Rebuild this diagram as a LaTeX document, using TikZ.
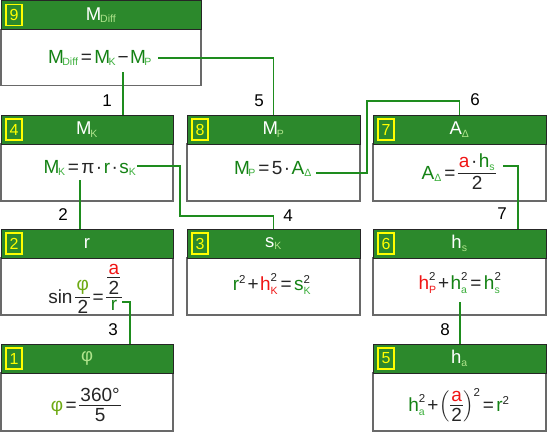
\documentclass[tikz,border=0pt]{standalone}
\usepackage{fontspec}
\setmainfont{Liberation Sans}
\usepackage{amsmath}
\definecolor{hdrfill}{RGB}{44,137,44}
\definecolor{vg}{RGB}{20,130,20}
\definecolor{sg}{RGB}{60,175,60}
\definecolor{lg}{RGB}{110,170,20}
\definecolor{hs}{RGB}{175,228,140}
\definecolor{ln}{RGB}{30,140,30}
\definecolor{bord}{RGB}{105,105,105}
\definecolor{badgec}{RGB}{255,255,0}
\definecolor{rd}{RGB}{240,20,20}
\thickmuskip=2.5mu plus 1mu
\medmuskip=1.5mu plus 1mu
\newcommand\T[2]{\text{\color{#1}#2}}
\newcommand\Sb[2]{\text{\fontsize{10.5}{10.5}\selectfont\color{#1}#2}}
\newcommand\Sp[1]{\text{\fontsize{11.5}{11.5}\selectfont\color{black!85}#1}}
\newcommand\EQ{\mathrel{\text{=}}}
\newcommand\PL{\mathbin{\text{+}}}
\newcommand\MI{\mathbin{\text{−}}}
\newcommand\CD{\mathbin{\text{·}}}
% fraction with rule on the axis
\newcommand\Fr[2]{\mathord{\FrBox{#1}{#2}}}
\newcommand\FrBox[2]{%
  \setbox0=\hbox{#1}\setbox2=\hbox{#2}%
  \dimen0=\wd0 \ifdim\wd2>\dimen0 \dimen0=\wd2\fi
  \advance\dimen0 by 2.5pt
  \raisebox{5.6pt}{\vtop{\offinterlineskip\vbox{\offinterlineskip\hbox to\dimen0{\hss\box0\hss}\kern2.5pt\hrule height 0.8pt}\kern3pt\hbox to\dimen0{\hss\box2\hss}}}}
\newcommand\mycard[7]{%
  \node[bodybox, minimum width=#4pt, minimum height=#5pt] (b#1) at (#2,#3+29) {};
  \node[hdrbox, minimum width=#4pt] (h#1) at (#2,#3) {};
  \node[ttl] (t#1) at (h#1.center) {#7};
  \node[badge] (n#1) at ([xshift=13pt]h#1.west) {#6};
}
\tikzset{
  hdrbox/.style={draw=black!85, fill=hdrfill, line width=0.9pt, inner sep=0, outer sep=0, anchor=north west, minimum height=29pt},
  bodybox/.style={draw=bord, fill=white, line width=1.2pt, inner sep=0, outer sep=0, anchor=north west},
  badge/.style={draw=badgec, line width=1.3pt, text=badgec, minimum width=16pt, minimum height=21pt, inner sep=0, font=\fontsize{16}{16}\selectfont},
  ttl/.style={text=white, font=\fontsize{18.5}{18.5}\selectfont, inner sep=0},
  fml/.style={font=\fontsize{19}{22}\selectfont, inner sep=0, text=black!85, anchor=base},
  conn/.style={draw=ln, line width=1.6pt},
  lbl/.style={font=\fontsize{17}{17}\selectfont, inner sep=0, text=black},
}
\begin{document}
\begin{tikzpicture}[x=1pt,y=-1pt]
\useasboundingbox (0,0) rectangle (547,432);
% cards
\mycard{9}{1}{0.5}{200}{56}{9}{$\text{M}_{\Sb{hs}{\kern-1pt Diff}}$}
\mycard{4}{1}{115}{172}{57}{4}{$\text{M}_{\Sb{hs}{\kern-1pt K}}$}
\mycard{8}{187}{115}{173}{57}{8}{$\text{M}_{\Sb{hs}{\kern-1pt P}}$}
\mycard{7}{373}{115}{173}{57}{7}{$\text{A}_{\Sb{hs}{Δ}}$}
\mycard{2}{1}{229}{172}{57}{2}{r}
\mycard{3}{187}{229}{173}{57}{3}{$\text{s}_{\Sb{hs}{K}}$}
\mycard{6}{373}{229}{173}{57}{6}{$\text{h}_{\Sb{hs}{s}}$}
\mycard{1}{1}{344}{172}{58}{1}{\textcolor{hs}{φ}}
\mycard{5}{373}{344}{173}{58}{5}{$\text{h}_{\Sb{hs}{a}}$}
% formulas
\node[fml] (f9) at (100,63) {$\T{vg}{M}_{\Sb{sg}{\kern-1.5pt Diff}}\EQ\T{vg}{M}_{\Sb{sg}{\kern-1.5pt K}}\MI\T{vg}{M}_{\Sb{sg}{\kern-1.5pt P}}$};
\node[fml] (f4) at (90,173) {$\T{vg}{M}_{\Sb{sg}{\kern-1.5pt K}}\EQ\text{π}\CD\T{vg}{r}\CD\T{vg}{s}_{\Sb{sg}{K}}$};
\node[fml] (f8) at (273,174) {$\T{vg}{M}_{\Sb{sg}{\kern-1.5pt P}}\EQ\text{5}\CD\T{vg}{A}_{\Sb{sg}{Δ}}$};
\node[fml] (f7) at (459,179) {$\T{vg}{A}_{\Sb{sg}{Δ}}\EQ\Fr{$\T{rd}{a}\CD\T{vg}{h}_{\Sb{sg}{s}}$}{2}$};
\node[fml] (f2) at (85,303) {$\text{sin}\,\Fr{\textcolor{lg}{φ}}{2}\EQ\Fr{$\Fr{\textcolor{rd}{a}}{2}$}{\textcolor{vg}{r}}$};
\node[fml] (f3) at (272,290) {$\T{vg}{r}^{\Sp{2}}\PL\T{rd}{h}^{\Sp{2}}_{\Sb{rd}{K}}\EQ\T{vg}{s}^{\Sp{2}}_{\Sb{sg}{K}}$};
\node[fml] (f6) at (460,289) {$\T{rd}{h}^{\Sp{2}}_{\Sb{rd}{P}}\PL\T{vg}{h}^{\Sp{2}}_{\Sb{sg}{a}}\EQ\T{vg}{h}^{\Sp{2}}_{\Sb{sg}{s}}$};
\node[fml] (f1) at (86,411) {$\T{lg}{φ}\EQ\Fr{360°}{5}$};
\node[fml] (f5) at (459,411) {$\T{vg}{h}^{\Sp{2}}_{\Sb{sg}{a}}\PL\left(\Fr{\textcolor{rd}{a}}{2}\right)^{\Sp{2}}\EQ\T{vg}{r}^{\Sp{2}}$};
% connector start points
\coordinate (c1) at (123,72);
\coordinate (c5) at (158,58);
\coordinate (c6) at (316,173);
\coordinate (c6a) at (367,101);
\coordinate (c2) at (80,180);
\coordinate (c4) at (137,166);
\coordinate (c4a) at (180,216);
\coordinate (c7) at (503,166);
\coordinate (c3) at (122,302);
\coordinate (c8) at (460,302);
% connectors
\draw[conn] (c1) -- (c1 |- h4.north);
\draw[conn] (c5) -| (h8.north);
\draw[conn] (c6) -| (c6a) -| (h7.north);
\draw[conn] (c2) -- (c2 |- h2.north);
\draw[conn] (c4) -| (c4a) -| (h3.north);
\draw[conn] (c7) -| ([xshift=58.5pt]h6.north);
\draw[conn] (c3) -| ([xshift=43pt]h1.north);
\draw[conn] (c8) -- (c8 |- h5.north);
% labels
\node[lbl] (l1) at (107,101) {1};
\node[lbl] (l5) at (259,101) {5};
\node[lbl] (l6) at (475,100) {6};
\node[lbl] (l2) at (63,215) {2};
\node[lbl] (l4) at (288,216) {4};
\node[lbl] (l7) at (502,214) {7};
\node[lbl] (l3) at (113,330) {3};
\node[lbl] (l8) at (445,330) {8};
\end{tikzpicture}
\end{document}
